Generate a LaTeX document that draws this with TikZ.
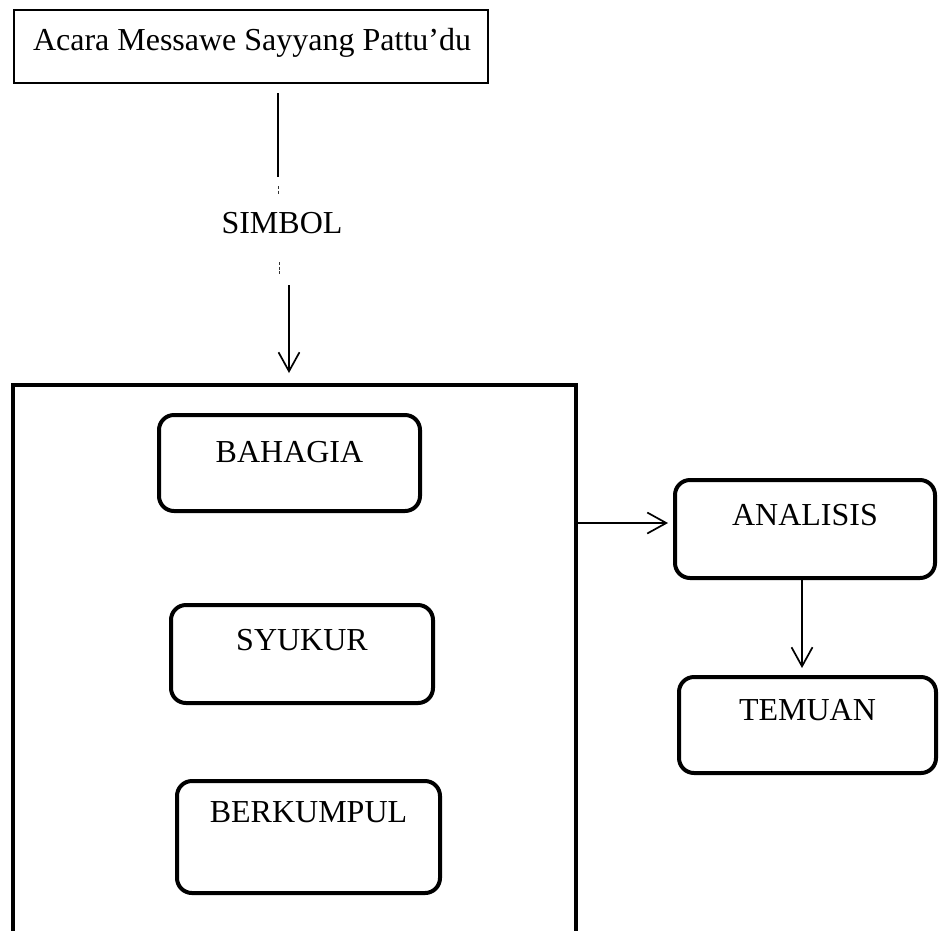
\documentclass[tikz,border=0pt]{standalone}
\usepackage{fontspec}
\setmainfont{Liberation Serif}
\usetikzlibrary{arrows.meta}
\begin{document}
\begin{tikzpicture}[x=1pt,y=-1pt,
  every node/.style={outer sep=0pt},
  lbl/.style={font=\fontsize{32}{38}\selectfont},
  rbox/.style={draw, line width=4pt, rounded corners=15pt, inner sep=0pt, text height=21pt, text depth=23pt, lbl},
  conn/.style={line width=1.7pt},
  arr/.style={line width=1.7pt, -{Straight Barb[length=19pt,width=21pt,line width=1.7pt]}},
  faint/.style={line width=0.9pt, dash pattern=on 3pt off 1.5pt, black!80}
]
\useasboundingbox (0,0) rectangle (939,930);
\clip (0,0) rectangle (939,930);
\node[draw, line width=2pt, anchor=north west, minimum width=474pt, minimum height=73pt,
      inner xsep=19pt, inner ysep=0pt,
      text height=21pt, text depth=14pt, lbl] (top) at (14,10) {\makebox[436pt][l]{Acara Messawe Sayyang Pattu’du}};
\node[lbl, anchor=base] (simbol) at (282,233) {SIMBOL};
\node[draw, line width=4pt, minimum width=563pt, minimum height=600pt, anchor=north west, inner sep=0pt] (frame) at (12.5,385) {};
\node[rbox, minimum width=261pt, minimum height=96pt] (bahagia) at (289.5,463) {BAHAGIA};
\node[rbox, minimum width=262pt, minimum height=98pt, text depth=29pt] (syukur) at (302,654) {SYUKUR};
\node[rbox, minimum width=263pt, minimum height=112pt, text depth=51pt] (berkumpul) at (308.5,837) {BERKUMPUL};
\node[rbox, minimum width=260pt, minimum height=98pt, text depth=29pt] (analisis) at (805,529) {ANALISIS};
\node[rbox, minimum width=257pt, minimum height=96pt, text depth=31pt] (temuan) at (807.5,725) {TEMUAN};
% connectors
\coordinate (l1b) at (278,177);
\draw[conn, shorten <=10pt] (top.south -| l1b) -- (l1b);
\coordinate (m1a) at (278,186);
\coordinate (m1b) at (278,195);
\coordinate (m2a) at (279,262);
\coordinate (m2b) at (279,274);
\draw[faint] (m1a) -- (m1b);
\draw[faint] (m2a) -- (m2b);
\coordinate (a1) at (289,285);
\draw[arr, shorten >=12pt] (a1) -- (a1 |- frame.north);
\coordinate (h) at (0,523);
\draw[arr, shorten >=7pt] (frame.east |- h) -- (analisis.west |- h);
\coordinate (v) at (802,0);
\draw[arr, shorten >=9pt] (analisis.south -| v) -- (temuan.north -| v);
\end{tikzpicture}
\end{document}
